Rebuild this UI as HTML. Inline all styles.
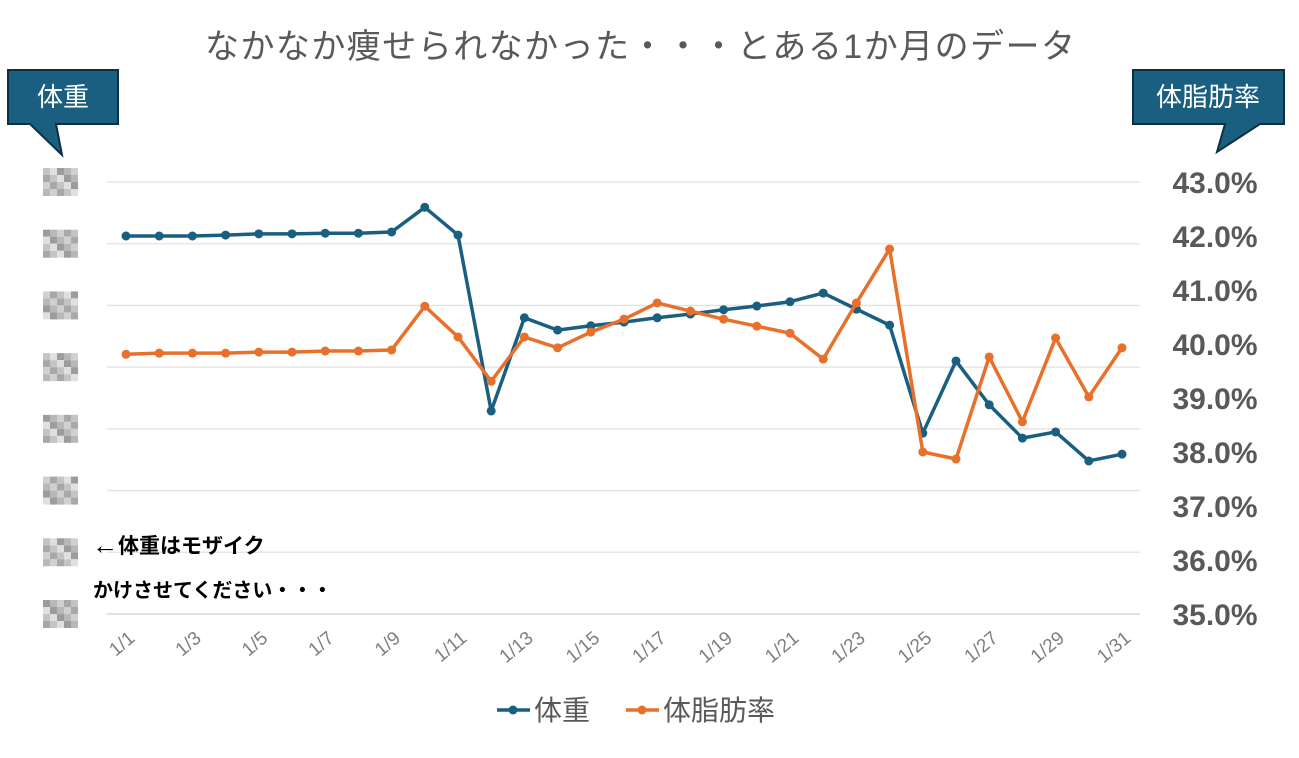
<!DOCTYPE html>
<html><head><meta charset="utf-8"><style>
body{margin:0;background:#fff;}
svg text{font-family:"Liberation Sans","Noto Sans CJK JP",sans-serif;}
</style></head><body>
<svg width="1299" height="753" xmlns="http://www.w3.org/2000/svg" id="chart">
<text x="640" y="58" font-size="34" fill="#595959" text-anchor="middle" textLength="870">なかなか痩せられなかった・・・とある1か月のデータ</text>
<g>
<path d="M8,70 H118 V124 H56 L62,155 L30,124 H8 Z" fill="#1a5f80" stroke="#0d2f40" stroke-width="2"/>
<text x="63" y="106" font-size="26" fill="#fff" text-anchor="middle">体重</text>
</g>
<g>
<path d="M1133,70 H1284 V124 H1260 L1217,152 L1225,124 H1133 Z" fill="#1a5f80" stroke="#0d2f40" stroke-width="2"/>
<text x="1208" y="106" font-size="26" fill="#fff" text-anchor="middle">体脂肪率</text>
</g>
<g id="grid"></g><g id="lyax"></g><g id="ryax"></g><g id="xax"></g><g id="series"></g>
<text x="92" y="553" font-size="21" font-weight="bold" fill="#000"><tspan font-size="26" dy="1">←</tspan><tspan dy="-1">体重はモザイク</tspan></text>
<text x="93" y="597" font-size="20" font-weight="bold" fill="#000">かけさせてください・・・</text>
<g>
<g><line x1="497" y1="710" x2="530" y2="710" stroke="#1a5f80" stroke-width="3.5"/><circle cx="513" cy="710" r="4.5" fill="#1a5f80"/><text x="534" y="720" font-size="28" fill="#595959">体重</text></g>
<g><line x1="626" y1="710" x2="659" y2="710" stroke="#e8702a" stroke-width="3.5"/><circle cx="642" cy="710" r="4.5" fill="#e8702a"/><text x="663" y="720" font-size="28" fill="#595959">体脂肪率</text></g>
</g>
</svg>
<script>
const days=["1/1","1/2","1/3","1/4","1/5","1/6","1/7","1/8","1/9","1/10","1/11","1/12","1/13","1/14","1/15","1/16","1/17","1/18","1/19","1/20","1/21","1/22","1/23","1/24","1/25","1/26","1/27","1/28","1/29","1/30","1/31"];
const weight=[65.125,65.125,65.125,65.14,65.16,65.16,65.17,65.17,65.19,65.59,65.14,62.29,63.80,63.60,63.67,63.73,63.80,63.86,63.93,63.99,64.06,64.20,63.94,63.68,61.93,63.10,62.39,61.85,61.95,61.48,61.59];
const bodyfat=[39.81,39.83,39.83,39.83,39.85,39.85,39.87,39.87,39.89,40.70,40.13,39.31,40.13,39.93,40.22,40.46,40.76,40.61,40.46,40.33,40.20,39.72,40.76,41.76,38.0,37.87,39.76,38.56,40.11,39.02,39.93];
const leftTicks=[59,60,61,62,63,64,65,66];
const rightTicks=[35,36,37,38,39,40,41,42,43];
const NS="http://www.w3.org/2000/svg";
const X0=126,X1=1122,PL=107,PR=1140,YT=182,YB=614;
const xs=i=>X0+(X1-X0)*i/(days.length-1);
const yl=v=>YB-(v-59)/(66-59)*(YB-YT);
const yr=v=>YB-(v-35)/(43-35)*(YB-YT);
function mk(t,a,p){const e=document.createElementNS(NS,t);for(const k in a)e.setAttribute(k,a[k]);p.appendChild(e);return e;}
const G=document.getElementById('grid'),LY=document.getElementById('lyax'),RY=document.getElementById('ryax'),XA=document.getElementById('xax'),S=document.getElementById('series');
const shades=["#b8b8b8","#d0d0d0","#a8a8a8","#c4c4c4","#e0e0e0","#9c9c9c"];
leftTicks.forEach((v,i)=>{
  const y=yl(v);
  const l=mk('line',{x1:PL,x2:PR,y1:y,y2:y,stroke:i==0?'#d0d0d0':'#e2e2e2','stroke-width':1.3},G);
  
  
  const g=mk('g',{},LY);
  
  
  for(let r=0;r<4;r++)for(let c=0;c<5;c++)mk('rect',{x:43+c*7,y:y-14+r*7,width:7,height:7,fill:shades[(r*5+c+i*3+v)%6]},g);
});
rightTicks.forEach(v=>{
  const t=mk('text',{x:1215,y:yr(v)+11,'font-size':30,'font-weight':'bold',fill:'#595959','text-anchor':'middle'},RY);
  t.textContent=v.toFixed(1)+'%';
  
  
});
days.forEach((d,i)=>{
  if(i%2)return;
  const x=xs(i)+10, y=640;
  const t=mk('text',{x:x,y:y,'font-size':19,fill:'#7f7f7f','text-anchor':'end',transform:`rotate(-40 ${x} ${y})`},XA);
  t.textContent=d;
  
  
});
function series(vals,fy,col,name){
  const g=mk('g',{},S);
  
  
  const p=mk('polyline',{points:vals.map((v,i)=>xs(i)+','+fy(v)).join(' '),fill:'none',stroke:col,'stroke-width':3.5,'stroke-linejoin':'round'},g);
  
  
  vals.forEach((v,i)=>{
    const c=mk('circle',{cx:xs(i),cy:fy(v),r:4.5,fill:col},g);
    
    
  });
}
series(weight,yl,'#1a5f80','weight');
series(bodyfat,yr,'#e8702a','bodyfat');
</script>
</body></html>
